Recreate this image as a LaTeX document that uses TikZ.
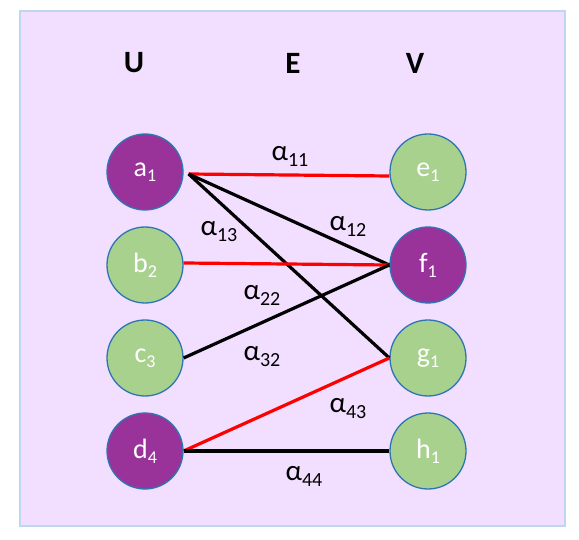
\documentclass[tikz,border=0pt]{standalone}
\usepackage{fontspec}
\setmainfont{Carlito}
\definecolor{bgfill}{RGB}{242,222,254}
\definecolor{bgline}{RGB}{189,215,238}
\definecolor{purp}{RGB}{153,51,153}
\definecolor{grn}{RGB}{169,209,142}
\definecolor{ring}{RGB}{46,117,182}
\newcommand{\sbs}[1]{\raisebox{-5pt}{\fontsize{18}{18}\selectfont #1}}
\newcommand{\lsb}[1]{\raisebox{-6pt}{\fontsize{20}{20}\selectfont #1}}
\begin{document}
\begin{tikzpicture}[x=1pt,y=-1pt,
  vert/.style={circle, minimum size=76pt, inner sep=0pt, line width=1.3pt, draw=ring, text=white, font=\fontsize{28}{28}\selectfont},
  pnode/.style={vert, fill=purp},
  gnode/.style={vert, fill=grn},
  head/.style={font=\fontsize{31}{31}\selectfont\bfseries, inner sep=0pt},
  lab/.style={font=\fontsize{29}{29}\selectfont, inner sep=0pt},
  redge/.style={draw=red, line width=3.2pt},
  bedge/.style={draw=black, line width=3.2pt}]
\useasboundingbox (0,0) rectangle (579,540);
\draw[line width=2pt, draw=bgline, fill=bgfill] (20,11) rectangle (565,526);

\node[head] (hU) at (134,63) {U};
\node[head] (hE) at (293,63) {E};
\node[head] (hV) at (415,63) {V};

\node[pnode] (a1) at (145,172) {a\sbs{1}};
\node[gnode] (b2) at (145,265) {b\sbs{2}};
\node[gnode] (c3) at (145,358) {c\sbs{3}};
\node[pnode] (d4) at (145,451) {d\sbs{4}};
\node[gnode] (e1) at (428,172) {e\sbs{1}};
\node[pnode] (f1) at (428,265) {f\sbs{1}};
\node[gnode] (g1) at (428,358) {g\sbs{1}};
\node[gnode] (h1) at (428,451) {h\sbs{1}};

\coordinate (a1o) at ([xshift=5pt,yshift=-2pt]a1.east);
\draw[redge] (a1o) -- ([yshift=-4pt]e1.west);
\draw[bedge] (a1o) -- (f1.west);
\draw[bedge] (a1o) -- (g1.west);
\draw[redge] ([yshift=2pt]b2.east) -- (f1.west);
\draw[bedge] (c3.east) -- (f1.west);
\draw[redge] (d4.east) -- (g1.west);
\draw[bedge] (d4.east) -- (h1.west);

\node[lab] (l11) at (290,156) {α\lsb{11}};
\node[lab] (l12) at (348,226) {α\lsb{12}};
\node[lab] (l13) at (219,232) {α\lsb{13}};
\node[lab] (l22) at (262,295) {α\lsb{22}};
\node[lab] (l32) at (262,357) {α\lsb{32}};
\node[lab] (l43) at (348,409) {α\lsb{43}};
\node[lab] (l44) at (304,476) {α\lsb{44}};
\end{tikzpicture}
\end{document}
